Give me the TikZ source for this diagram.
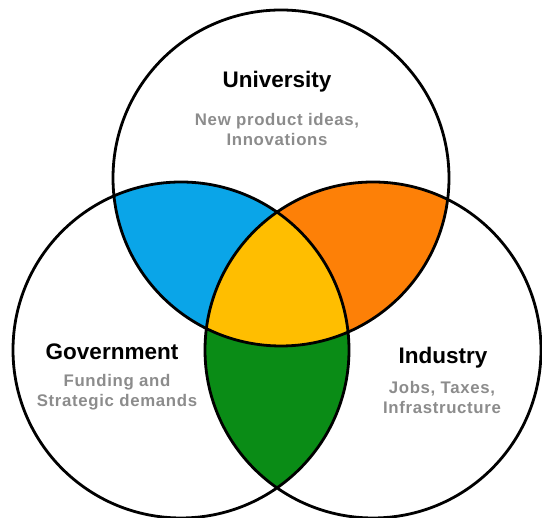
\documentclass[tikz,border=0pt]{standalone}
\usepackage{fontspec}
\setmainfont{Liberation Sans}
\newfontfamily\blurbfont[LetterSpace=4]{Liberation Sans}
\usetikzlibrary{positioning}
\definecolor{uniblue}{RGB}{10,165,232}
\definecolor{indorange}{RGB}{253,128,7}
\definecolor{coreyellow}{RGB}{255,190,0}
\definecolor{govgreen}{RGB}{10,140,22}
\definecolor{notegray}{RGB}{140,140,140}
\tikzset{
  headline/.style={font=\bfseries\fontsize{22.5}{26}\selectfont, text=black},
  blurb/.style={font=\blurbfont\bfseries\fontsize{16.8}{20}\selectfont, text=notegray, align=center},
  ring/.style={draw=black, line width=2.8pt}
}

\begin{document}
\begin{tikzpicture}[x=1pt,y=1pt]
    \useasboundingbox (0,0) rectangle (542,518);
    \coordinate (u) at (281,340);
    \coordinate (g) at (181,168);
    \coordinate (i) at (373,168);
    % two-way overlaps
    \begin{scope}
        \clip (u) circle (168pt);
        \fill[uniblue] (g) circle (168pt);
        \fill[indorange] (i) circle (168pt);
    \end{scope}
    \begin{scope}
        \clip (g) circle (168pt);
        \fill[govgreen] (i) circle (168pt);
    \end{scope}
    % centre where all three meet
    \begin{scope}
        \clip (u) circle (168pt);
        \clip (g) circle (168pt);
        \fill[coreyellow] (i) circle (168pt);
    \end{scope}
    \draw[ring] (u) circle (168pt) (g) circle (168pt) (i) circle (168pt);
    \node[headline] (univ) at (277,436) {University};
    \node[blurb] (univnote) at (277,388) {New product ideas,\\ Innovations};
    \node[headline] (gov) at (112,166) {Government};
    \node[blurb] (govnote) at (117,126) {Funding and\\ Strategic demands};
    \node[headline] (ind) at (443,160) {Industry};
    \node[blurb] (indnote) at (442,120) {Jobs, Taxes,\\ Infrastructure};
\end{tikzpicture}
\end{document}
